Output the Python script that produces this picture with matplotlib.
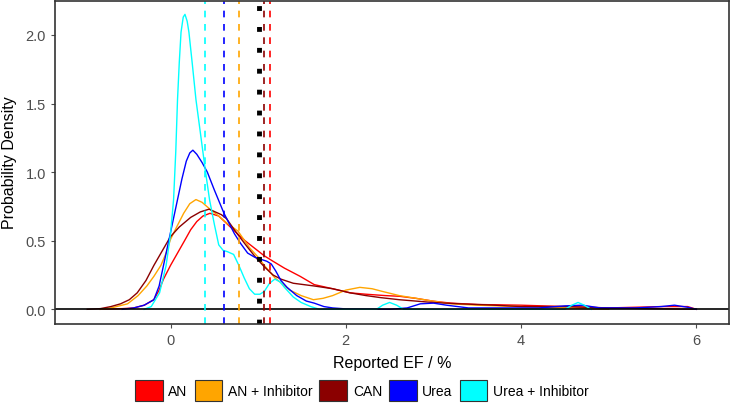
import matplotlib
matplotlib.use("Agg")
import matplotlib.pyplot as plt
from matplotlib.patches import Patch

plt.rcParams["font.family"] = ["Liberation Sans", "DejaVu Sans"]

labels = ["AN", "AN + Inhibitor", "CAN", "Urea", "Urea + Inhibitor"]
colors = ["#ff0000", "#ffa500", "#8b0000", "#0000ff", "#00ffff"]

# density curves (x = reported EF %, y = density)
an_x = [-0.8, -0.55, -0.42, -0.3, -0.19, -0.13, -0.08, 0.0, 0.08, 0.16, 0.23, 0.3,
        0.37, 0.45, 0.55, 0.65, 0.75, 0.85, 0.95, 1.07, 1.17, 1.3, 1.48, 1.64, 1.85,
        2.05, 2.23, 2.45, 2.61, 2.8, 2.99, 3.2, 3.5, 4.0, 4.5, 5.0, 5.3, 5.6, 5.9, 6.0]
an_y = [0.0, 0.005, 0.01, 0.03, 0.07, 0.14, 0.22, 0.32, 0.41, 0.5, 0.58, 0.64,
        0.68, 0.7, 0.68, 0.62, 0.56, 0.5, 0.45, 0.39, 0.35, 0.3, 0.24, 0.18, 0.15,
        0.12, 0.11, 0.1, 0.095, 0.08, 0.06, 0.045, 0.035, 0.03, 0.02, 0.01, 0.015, 0.02, 0.02, 0.0]

ani_x = [-0.8, -0.68, -0.49, -0.37, -0.27, -0.19, -0.11, -0.05, 0.0, 0.07, 0.15, 0.22,
         0.29, 0.36, 0.45, 0.55, 0.64, 0.77, 0.9, 1.0, 1.07, 1.19, 1.36, 1.49, 1.63,
         1.74, 1.85, 2.0, 2.16, 2.3, 2.42, 2.61, 2.8, 2.99, 3.2, 3.5, 4.0, 4.5, 5.0]
ani_y = [0.0, 0.01, 0.04, 0.1, 0.17, 0.24, 0.32, 0.41, 0.51, 0.6, 0.7, 0.77,
         0.8, 0.78, 0.73, 0.68, 0.63, 0.57, 0.45, 0.38, 0.32, 0.23, 0.14, 0.1, 0.07,
         0.08, 0.1, 0.14, 0.16, 0.15, 0.13, 0.1, 0.08, 0.06, 0.04, 0.03, 0.02, 0.01, 0.0]

can_x = [-0.95, -0.8, -0.68, -0.57, -0.47, -0.38, -0.28, -0.19, -0.1, 0.0, 0.1, 0.23,
         0.34, 0.44, 0.58, 0.64, 0.75, 0.87, 0.97, 1.07, 1.17, 1.26, 1.4, 1.64, 1.85,
         2.05, 2.23, 2.4, 2.61, 2.8, 2.99, 3.3, 3.7, 4.0, 4.5, 5.0, 5.5, 6.0]
can_y = [0.0, 0.005, 0.02, 0.04, 0.07, 0.12, 0.21, 0.32, 0.42, 0.53, 0.6, 0.67,
         0.71, 0.73, 0.69, 0.66, 0.56, 0.46, 0.38, 0.31, 0.25, 0.22, 0.19, 0.17, 0.15,
         0.12, 0.1, 0.085, 0.07, 0.06, 0.05, 0.04, 0.03, 0.02, 0.02, 0.01, 0.005, 0.0]

urea_x = [-0.55, -0.42, -0.3, -0.19, -0.13, -0.08, -0.04, 0.0, 0.04, 0.08, 0.13, 0.18,
          0.22, 0.255, 0.3, 0.36, 0.42, 0.5, 0.61, 0.73, 0.8, 0.88, 0.96, 1.03, 1.1,
          1.15, 1.2, 1.26, 1.33, 1.44, 1.55, 1.64, 1.75, 1.85, 2.0, 2.5, 2.7, 2.85,
          3.0, 3.15, 3.4, 3.8, 4.2, 4.5, 4.7, 4.9, 5.3, 5.6, 5.75, 5.9, 6.0]
urea_y = [0.0, 0.01, 0.03, 0.07, 0.17, 0.32, 0.44, 0.56, 0.68, 0.8, 0.95, 1.08,
          1.14, 1.16, 1.13, 1.07, 1.0, 0.87, 0.7, 0.55, 0.48, 0.41, 0.38, 0.365, 0.35,
          0.33, 0.28, 0.21, 0.16, 0.1, 0.06, 0.045, 0.02, 0.01, 0.003, 0.0, 0.01, 0.04,
          0.045, 0.03, 0.01, 0.01, 0.01, 0.025, 0.03, 0.01, 0.01, 0.02, 0.03, 0.015, 0.0]

ureai_x = [-0.3, -0.22, -0.125, -0.05, 0.0, 0.035, 0.06, 0.08, 0.1, 0.12, 0.145, 0.165,
           0.19, 0.21, 0.25, 0.29, 0.34, 0.4, 0.445, 0.5, 0.55, 0.6, 0.65, 0.72, 0.78,
           0.84, 0.9, 0.96, 1.02, 1.07, 1.13, 1.19, 1.25, 1.3, 1.4, 1.49, 1.6, 1.7,
           2.35, 2.42, 2.5, 2.58, 2.66, 4.5, 4.58, 4.65, 4.72, 4.8]
ureai_y = [0.0, 0.02, 0.12, 0.32, 0.55, 0.8, 1.15, 1.53, 1.8, 2.02, 2.13, 2.15,
           2.1, 2.02, 1.78, 1.53, 1.29, 1.0, 0.8, 0.62, 0.47, 0.43, 0.42, 0.4, 0.32,
           0.23, 0.15, 0.11, 0.11, 0.13, 0.19, 0.22, 0.2, 0.16, 0.09, 0.05, 0.02, 0.0,
           0.0, 0.03, 0.05, 0.03, 0.0, 0.0, 0.03, 0.05, 0.03, 0.0]

means = [1.13, 0.78, 1.07, 0.61, 0.39]
overall_mean = 1.01

curves = [(an_x, an_y), (ani_x, ani_y), (can_x, can_y), (urea_x, urea_y), (ureai_x, ureai_y)]

fig = plt.figure(figsize=(7.31, 4.14), dpi=100)
ax = fig.add_axes([0.075, 0.216, 0.922, 0.78])

for (xs, ys), c in zip(curves, colors):
    ax.plot(xs, ys, color=c, lw=1.0, solid_joinstyle="round")

ax.axhline(0, color="black", lw=1.2)

for m, c in zip(means, colors):
    ax.axvline(m, color=c, lw=1.2, linestyle=(0, (4, 4)))
ax.axvline(overall_mean, color="black", lw=3.5, linestyle=(0, (1, 3.3)))

ax.set_xlim(-1.32, 6.37)
ax.set_ylim(-0.104, 2.25)
ax.set_xticks([0, 2, 4, 6])
ax.set_yticks([0.0, 0.5, 1.0, 1.5, 2.0])
ax.set_yticklabels(["0.0", "0.5", "1.0", "1.5", "2.0"])
ax.tick_params(colors="#4d4d4d", labelsize=10.5, length=3)
for s in ax.spines.values():
    s.set_color("#333333")
    s.set_linewidth(1.2)

ax.set_xlabel("Reported EF / %", fontsize=11.5, labelpad=6)
ax.set_ylabel("Probability Density", fontsize=11.5, labelpad=6)

handles = [Patch(facecolor=c, edgecolor="#333333", lw=0.8) for c in colors]
fig.legend(handles, labels, loc="center", bbox_to_anchor=(0.495, 0.055), ncol=5,
           frameon=False, fontsize=10, handlelength=2.0, handleheight=2.0,
           handletextpad=0.4, columnspacing=0.5, borderaxespad=0)

fig.savefig("out.png", dpi=100)
